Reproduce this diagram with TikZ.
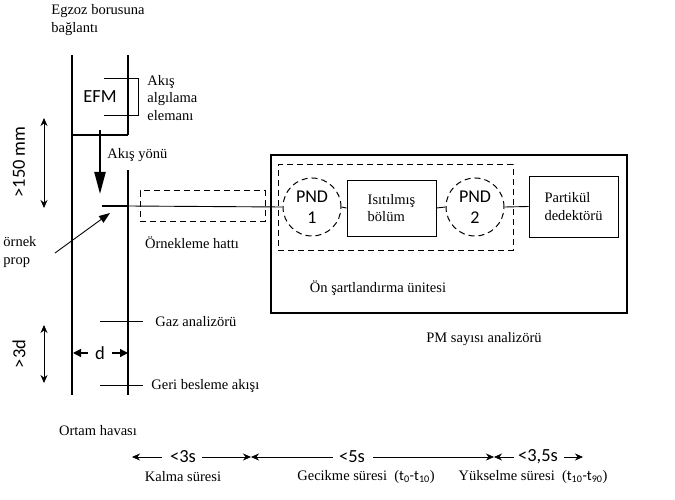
\documentclass[tikz,border=0pt]{standalone}
\usepackage{fontspec}
\setmainfont{Liberation Serif}
\newfontfamily\calibri{Carlito}
\usetikzlibrary{arrows.meta, positioning, shapes.geometric}

\begin{document}
\begin{tikzpicture}[x=1pt, y=-1pt, line width=0.9pt,
    every node/.style={font=\fontsize{14.5}{17.5}\selectfont, inner sep=0pt},
    label/.style={align=left},
    sanslabel/.style={font=\fontsize{18.5}{20}\calibri},
    box/.style={draw, line width=0.9pt},
    dashbox/.style={draw, dashed, line width=1pt, dash pattern=on 6pt off 4pt},
    pnd/.style={circle, dashbox, minimum size=58pt, align=center, font=\fontsize{18}{21}\calibri},
    tick/.style={line width=0.8pt},
    timearrow/.style={line width=0.7pt, -{Stealth[length=8pt,width=7pt]}},
    ]
\useasboundingbox (0,0) rectangle (675,500);

% pipe
\draw[line width=1.1pt] (72,55) -- (72,395);
\draw[line width=1.1pt] (128,55) -- (128,135);
\draw[line width=1.1pt] (128,170) -- (128,395);
\draw[line width=1.1pt] (72,135) -- (128,135);
\node[label, anchor=north west] (egzoz) at (51,4) {Egzoz borusuna\\bağlantı};

% flow meter
\draw (104,78) -| (138,115) -- (104,115);
\node[sanslabel] (efm) at (100,97) {EFM};
\node[label, anchor=west] (akis) at (147,98) {Akış\\algılama\\elemanı};
\coordinate (flowtop) at (100,130);
\coordinate (flowend) at (100,194);
\draw[line width=2.2pt, -{Triangle[width=11pt,length=22pt]}] (flowtop) -- (flowend);
\node[anchor=west] (yon) at (107,155) {Akış yönü};

% distances
\coordinate (a150t) at (44,118);
\coordinate (a150b) at (44,208);
\draw[{Stealth[length=8pt,width=7pt]}-{Stealth[length=8pt,width=7pt]}] (a150t) -- (a150b);
\node[sanslabel, rotate=90] (l150) at (19,162) {>150 mm};
\coordinate (a3dt) at (44,325);
\coordinate (a3db) at (44,383);
\draw[{Stealth[length=8pt,width=7pt]}-{Stealth[length=8pt,width=7pt]}] (a3dt) -- (a3db);
\node[sanslabel, rotate=90] (l3d) at (19,354) {>3d};
\node[sanslabel] (dlab) at (100,353) {d};
\coordinate (dleft) at (73,353);
\coordinate (dright) at (128,353);
\draw[line width=1.2pt, -{Triangle[length=8pt,width=8pt]}] (dlab.west) ++(-7,0) -- (dleft);
\draw[line width=1.2pt, -{Triangle[length=8pt,width=8pt]}] (dlab.east) ++(7,0) -- (dright);

% probe and sampling line
\coordinate (probetip) at (102,206);
\coordinate (probewall) at (128,206);
\draw[line width=2pt] (probetip) -- (probewall);
\node[dashbox, minimum width=125pt, minimum height=30pt] (hat) at (202.5,206) {};
\node (hatlab) at (192,243) {Örnekleme hattı};
\node[label, anchor=west] (prop) at (3,252) {örnek\\prop};
\draw[-{Triangle[length=11pt,width=8pt]}] (55,253) -- (110,213);

% gas analyser and feedback
\node[anchor=west] (gaz) at (155,322) {Gaz analizörü};
\node[anchor=west] (geri) at (151,386) {Geri besleme akışı};
\coordinate (gazin) at (100,321);
\coordinate (geriin) at (100,385);
\draw[tick] (gazin) -- ++(43,0);
\draw[tick] (geriin) -- ++(43,0);
\node (ortam) at (98,431) {Ortam havası};

% PM number analyser
\node[box, line width=1.2pt, minimum width=356pt, minimum height=158pt] (pm) at (449,234) {};
\node[dashbox, minimum width=235pt, minimum height=85pt] (onsart) at (395.5,207.5) {};
\node[pnd] (pnd1) at (312,207) {PND\\1};
\node[box, minimum width=89pt, minimum height=56pt, align=left] (isi) at (391.5,208) {Isıtılmış\\bölüm};
\node[pnd] (pnd2) at (475,207) {PND\\2};
\node[box, minimum width=89pt, minimum height=61pt, align=left] (dedektor) at (573.5,206.5) {Partikül\\dedektörü};
\draw (probewall) -- (pnd1.west);
\draw (pnd1.east) -- (isi.west);
\draw (isi.east) -- (pnd2.west);
\draw (pnd2.east) -- (dedektor.west);
\node (onlab) at (378,288) {Ön şartlandırma ünitesi};
\node (pmlab) at (484,339) {PM sayısı analizörü};

% response times
\node[sanslabel] (t3) at (183,457) {<3s};
\node[sanslabel] (t5) at (352,457) {<5s};
\node[sanslabel] (t35) at (538,457) {<3,5s};
\coordinate (s0) at (132,457);
\coordinate (s1) at (251,457);
\coordinate (s2) at (494,457);
\coordinate (s3) at (583,457);
\draw[timearrow] (t3.west) ++(-8,0) -- (s0);
\draw[timearrow] (t3.east) ++(6,0) -- (s1);
\draw[timearrow] (t5.west) ++(-6,0) -- (s1);
\draw[timearrow] (t5.east) ++(8,0) -- (s2);
\draw[timearrow] (t35.west) ++(-4,0) -- (s2);
\draw[timearrow] (t35.east) ++(6,0) -- (s3);
\node (kalma) at (183,477) {Kalma süresi};
\node (gecikme) at (366,477) {Gecikme süresi \ ({\calibri t\textsubscript{0}-t\textsubscript{10}})};
\node (yukselme) at (533,477) {Yükselme süresi \ ({\calibri t\textsubscript{10}-t\textsubscript{90}})};
\end{tikzpicture}
\end{document}
